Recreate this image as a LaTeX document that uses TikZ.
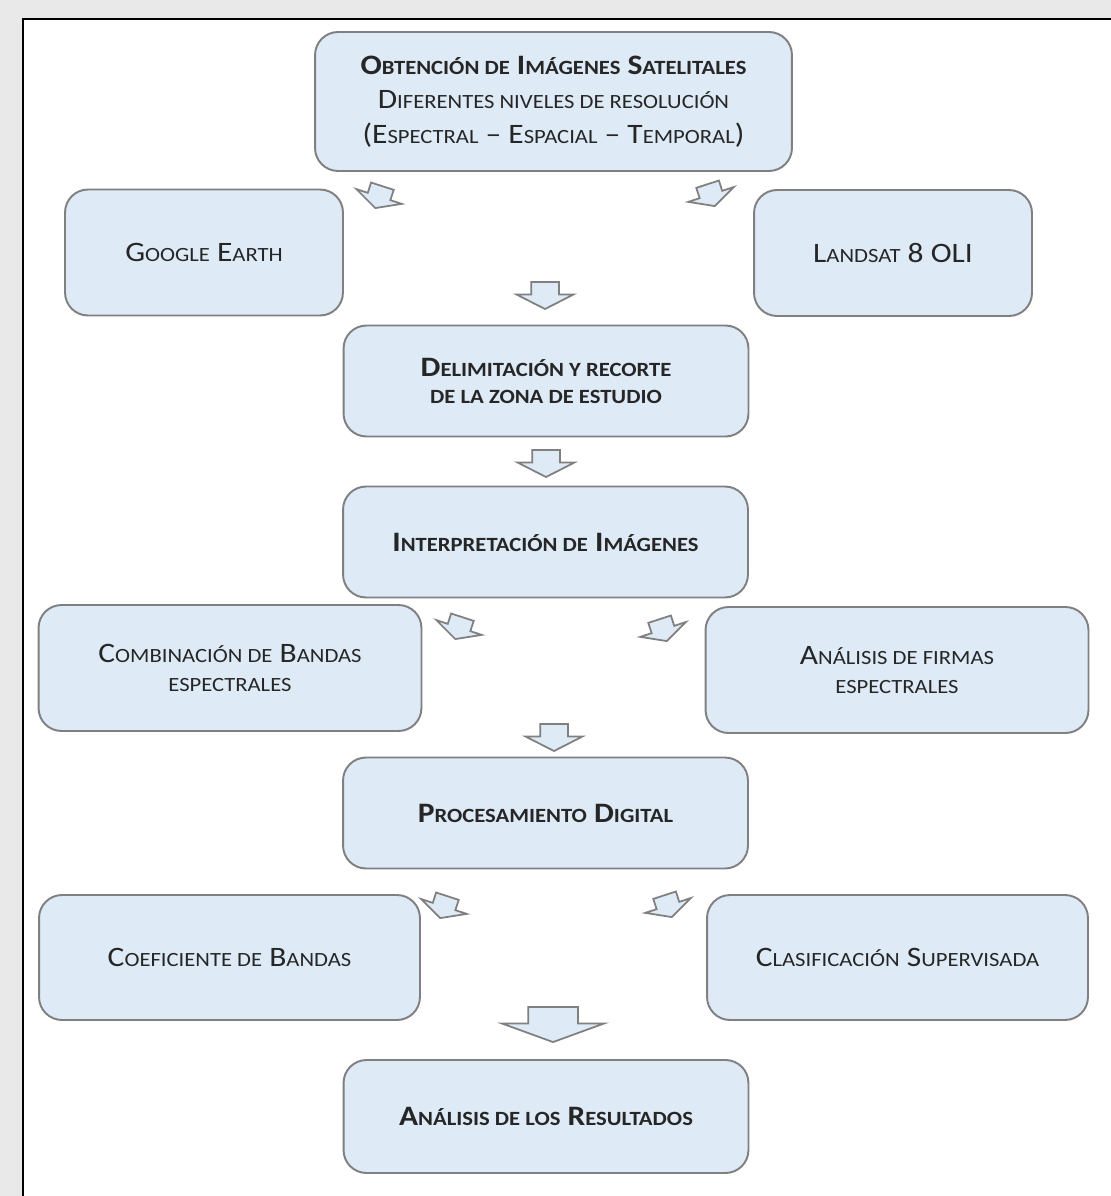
\documentclass[tikz,border=0pt]{standalone}
\usepackage{fontspec}
\setmainfont[FakeStretch=1.12]{Carlito}
\usepackage{xcolor}
\definecolor{boxblue}{RGB}{222,234,246}
\definecolor{boxgray}{RGB}{128,128,128}
\definecolor{pagegray}{RGB}{233,233,233}
\definecolor{textgray}{RGB}{38,38,38}
\usetikzlibrary{shapes.arrows,positioning}
% small capitals by hand (Carlito has none)
\newcommand\smc[1]{{\fontsize{11.5}{13}\selectfont\MakeUppercase{#1}}}

\begin{document}
\begin{tikzpicture}[x=0.02cm,y=-0.02cm,font=\fontsize{16}{18}\selectfont,
  box/.style={draw=boxgray,fill=boxblue,line width=1.1pt,rounded corners=0.46cm,align=center,text=textgray,inner sep=0pt},
  mainbox/.style={box,minimum width=8.1cm,minimum height=2.22cm,font=\fontsize{16}{15.5}\selectfont\bfseries},
  sidebox/.style={box,minimum width=7.66cm,minimum height=2.52cm},
  srcbox/.style={box,minimum width=5.56cm,minimum height=2.52cm},
  blockarrow/.style={draw=boxgray,fill=boxblue,line width=1pt,single arrow,anchor=tip,inner xsep=0pt},
  smallarrow/.style={blockarrow,minimum height=0.46cm,inner ysep=0.22cm,single arrow head extend=0.24cm,single arrow tip angle=126},
  midarrow/.style={blockarrow,minimum height=0.54cm,inner ysep=0.26cm,single arrow head extend=0.29cm,single arrow tip angle=126},
  bigarrow/.style={blockarrow,minimum height=0.7cm,inner ysep=0.48cm,single arrow head extend=0.52cm,single arrow tip angle=140}]
  \useasboundingbox (0,0) rectangle (1111,1196);
  % page
  \fill[pagegray] (0,0) rectangle (1111,1196);
  \fill[white] (23,19) rectangle (1111,1196);
  \draw[line width=1.2pt] (1115,19) -- (23,19) -- (23,1200);

  % boxes
  \node[box,minimum width=9.54cm,minimum height=2.78cm,font=\fontsize{16}{19.6}\selectfont] (obt) at (553.5,101.5)
    {\textbf{O\smc{btención de} I\smc{mágenes} S\smc{atelitales}}\\ D\smc{iferentes niveles de resolución}\\ (E\smc{spectral} – E\smc{spacial} – T\smc{emporal})};
  \node[srcbox] (google) at (204,252.5) {G\smc{oogle} E\smc{arth}};
  \node[srcbox] (landsat) at (893,253) {L\smc{andsat} 8 OLI};
  \node[mainbox] (delim) at (546,381) {D\smc{elimitación y recorte}\\ \smc{de la zona de estudio}};
  \node[mainbox] (interp) at (545.5,542) {I\smc{nterpretación de} I\smc{mágenes}};
  \node[sidebox,font=\fontsize{16}{17}\selectfont] (comb) at (230,668) {C\smc{ombinación de} B\smc{andas}\\ \smc{espectrales}};
  \node[sidebox,font=\fontsize{16}{17}\selectfont] (firmas) at (897,670) {A\smc{nálisis de firmas}\\ \smc{espectrales}};
  \node[mainbox] (proc) at (545.5,813) {P\smc{rocesamiento} D\smc{igital}};
  \node[sidebox,minimum width=7.62cm,minimum height=2.5cm] (coef) at (229.5,957.5) {C\smc{oeficiente de} B\smc{andas}};
  \node[sidebox,minimum width=7.62cm,minimum height=2.5cm] (clasif) at (897.5,957.5) {C\smc{lasificación} S\smc{upervisada}};
  \node[mainbox,minimum height=2.26cm] (result) at (546,1116.5) {A\smc{nálisis de los} R\smc{esultados}};

  % block arrows
  \node[smallarrow,rotate=-108] (a1) at (375,209) {};
  \node[smallarrow,rotate=-72] (a2) at (715,207) {};
  \node[midarrow,rotate=-90] (a3) at (545,310) {};
  \node[midarrow,rotate=-90] (a4) at (546,478) {};
  \node[smallarrow,rotate=-108] (a5) at (455,640) {};
  \node[smallarrow,rotate=-72] (a6) at (667,642) {};
  \node[midarrow,rotate=-90] (a7) at (554,752) {};
  \node[smallarrow,rotate=-108] (a8) at (440,919) {};
  \node[smallarrow,rotate=-72] (a9) at (672,918) {};
  \node[bigarrow,rotate=-90] (a10) at (553,1043) {};
\end{tikzpicture}
\end{document}
